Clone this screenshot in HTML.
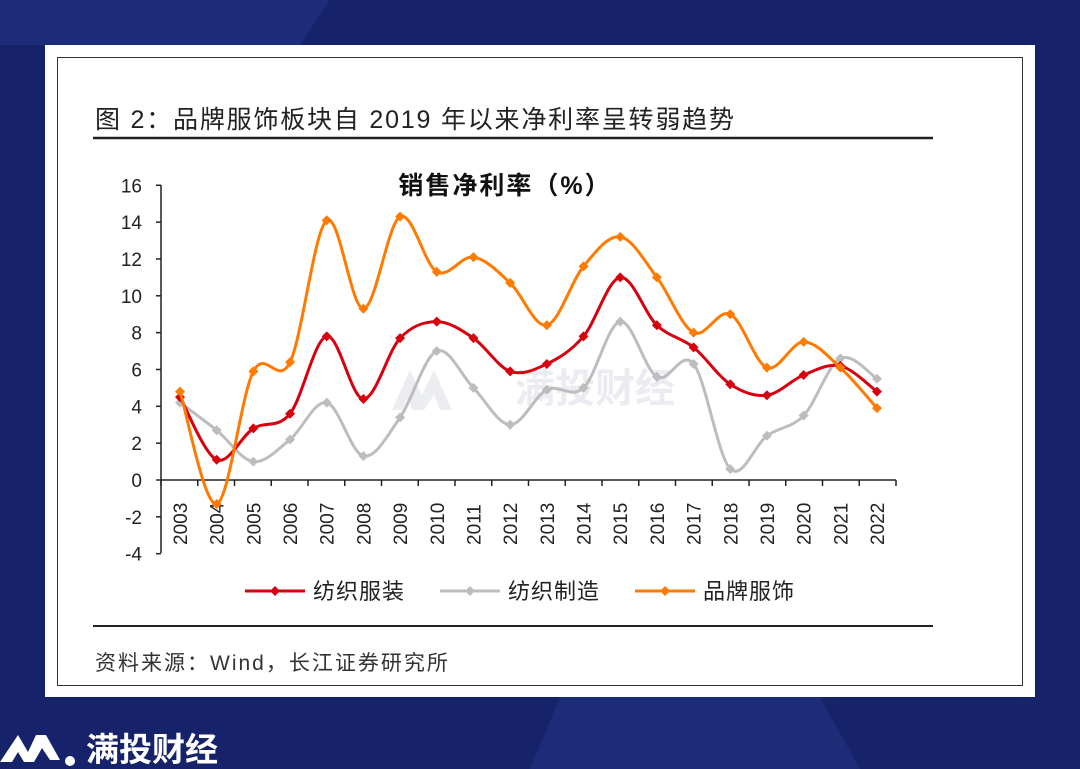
<!DOCTYPE html>
<html><head><meta charset="utf-8"><style>
html,body{margin:0;padding:0;}
body{width:1080px;height:769px;overflow:hidden;background:#16236a;font-family:"Liberation Sans","Noto Sans CJK SC",sans-serif;position:relative;}
</style></head><body>
<svg width="1080" height="769" style="position:absolute;left:0;top:0">
<polygon points="0,0 330,0 300,45 0,45" fill="#1d2c78"/>
<polygon points="560,697 820,697 860,769 530,769" fill="#1d2c78"/>
<rect x="45" y="45" width="990" height="652" fill="#fff"/>
<rect x="57.5" y="57.5" width="965" height="628" fill="none" stroke="#333" stroke-width="1"/>
<text x="95" y="128" font-size="25" letter-spacing="1.8" fill="#222">图  2：品牌服饰板块自 2019 年以来净利率呈转弱趋势</text>
<line x1="93" y1="138" x2="933" y2="138" stroke="#222" stroke-width="2.5"/>
<line x1="93" y1="626" x2="933" y2="626" stroke="#222" stroke-width="2"/>
<text x="95" y="670" font-size="21" letter-spacing="2" fill="#333">资料来源：Wind，长江证券研究所</text>
<text x="505" y="194" font-size="25" letter-spacing="2" font-weight="bold" fill="#111" text-anchor="middle">销售净利率（%）</text>
<g font-family="Liberation Sans, Noto Sans CJK SC, sans-serif" font-size="19" fill="#222" id="ax"></g>
<g id="wm" opacity="0.35">
<text x="515" y="402" font-size="40" fill="#c8cbd8" font-weight="bold">满投财经</text>
<polygon points="392,410 410,370 422,395 434,370 452,410 440,410 434,395 424,410 412,410 408,398 402,410" fill="#c8cbd8"/>
</g>
<g id="series"></g>
<g id="legend"></g>
<polygon points="0,762 18,735 28,752 36,735 46,735 60,760 50,760 42,748 34,762 24,762 18,752 12,762" fill="#fff"/>
<circle cx="70" cy="761" r="5" fill="#fff"/>
<text x="86" y="761" font-size="33" fill="#fff" font-weight="bold">满投财经</text>
</svg>
<script>
const X0=180,DX=(877-180)/19,Y0=480,U=18.42;
const y=v=>Y0-v*U, x=i=>X0+i*DX;
let ax='';
ax+=`<line x1="161" y1="185" x2="161" y2="553" stroke="#222" stroke-width="1.5"/>`;
for(let v=-4;v<=16;v+=2){ax+=`<line x1="156" y1="${y(v)}" x2="161" y2="${y(v)}" stroke="#222" stroke-width="1.5"/><text x="142" y="${y(v)+7}" text-anchor="end">${v}</text>`;}
ax+=`<line x1="161" y1="480" x2="896" y2="480" stroke="#222" stroke-width="1.5"/>`;
for(let i=0;i<=20;i++){let xx=161+i*(896-161)/20;ax+=`<line x1="${xx}" y1="480" x2="${xx}" y2="486" stroke="#222" stroke-width="1.5"/>`;}
for(let i=0;i<20;i++){ax+=`<text transform="translate(${x(i)+7},545) rotate(-90)">${2003+i}</text>`;}
document.getElementById('ax').innerHTML=ax;
const S=[
["#bdbdbd",[4.2,2.7,1.0,2.2,4.2,1.3,3.4,7.0,5.0,3.0,4.9,5.0,8.6,5.6,6.3,0.6,2.4,3.5,6.6,5.5]],
["#d7000f",[4.5,1.1,2.8,3.6,7.8,4.4,7.7,8.6,7.7,5.9,6.3,7.8,11.0,8.4,7.2,5.2,4.6,5.7,6.2,4.8]],
["#ff7a00",[4.8,-1.3,5.9,6.4,14.1,9.3,14.3,11.3,12.1,10.7,8.4,11.6,13.2,11.0,8.0,9.0,6.1,7.5,6.1,3.9]]];
let s='';
for(const [c,d] of S){
 const p=d.map((v,i)=>[x(i),y(v)]);
 let path=`M${p[0][0]},${p[0][1]}`;
 for(let i=0;i<p.length-1;i++){
  const a=p[Math.max(i-1,0)],b=p[i],cc=p[i+1],e=p[Math.min(i+2,p.length-1)];
  const c1=[b[0]+(cc[0]-a[0])/6,b[1]+(cc[1]-a[1])/6],c2=[cc[0]-(e[0]-b[0])/6,cc[1]-(e[1]-b[1])/6];
  path+=` C${c1[0]},${c1[1]} ${c2[0]},${c2[1]} ${cc[0]},${cc[1]}`;
 }
 s+=`<path d="${path}" fill="none" stroke="${c}" stroke-width="3"/>`;
 for(const q of p) s+=`<polygon points="${q[0]},${q[1]-5} ${q[0]+5},${q[1]} ${q[0]},${q[1]+5} ${q[0]-5},${q[1]}" fill="${c}"/>`;
}
document.getElementById('series').innerHTML=s;
let L='';
[["#d7000f",245,"纺织服装"],["#bdbdbd",440,"纺织制造"],["#ff7a00",635,"品牌服饰"]].forEach(([c,x0,t])=>{
 L+=`<line x1="${x0}" y1="591" x2="${x0+60}" y2="591" stroke="${c}" stroke-width="3"/><polygon points="${x0+30},586 ${x0+35},591 ${x0+30},596 ${x0+25},591" fill="${c}"/><text x="${x0+68}" y="599" font-size="22" letter-spacing="1" fill="#222">${t}</text>`;
});
document.getElementById('legend').innerHTML=L;
</script>
</body></html>
